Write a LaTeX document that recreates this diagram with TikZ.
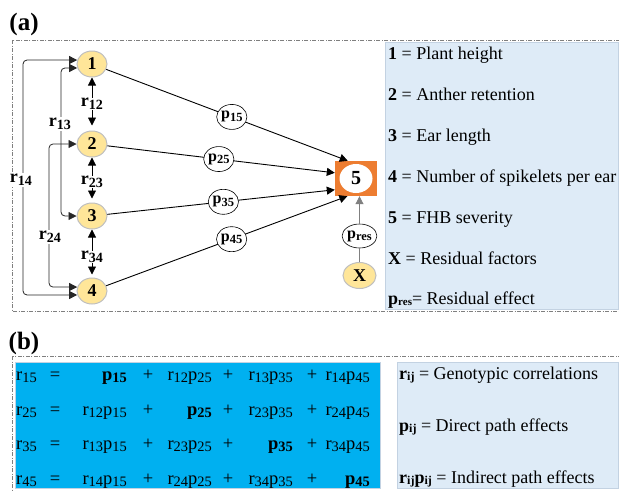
\documentclass[tikz,border=0pt]{standalone}
\usepackage{fontspec}
\setmainfont{Liberation Serif}
\usetikzlibrary{arrows.meta,shapes.geometric,calc}
\definecolor{nodefill}{HTML}{FFE699}
\definecolor{nodeline}{HTML}{BFBFBF}
\definecolor{orng}{HTML}{ED7D31}
\definecolor{lgtblue}{HTML}{DEEBF7}
\definecolor{lgtline}{HTML}{C3D2E2}
\definecolor{cyanblue}{HTML}{00B0F0}
\definecolor{dashgray}{HTML}{7F7F7F}
\definecolor{linegray}{HTML}{808080}
\makeatletter
\newdimen\sbsdim
\newcommand\sbs[1]{{\sbsdim=\f@size pt\relax\sbsdim=0.78\sbsdim
  \raisebox{-0.35ex}{\fontsize{\strip@pt\sbsdim}{0}\selectfont #1}}}
\makeatother
\newcommand\rp[2]{r\sbs{#1}p\sbs{#2}}
\newcommand\bp[1]{\textbf{p\sbs{#1}}}
\newcommand\eqrow[7]{%
  \node[eqtxt, anchor=base west] (#1l) at (16,#2) {#3};
  \node[eqtxt, anchor=base] (#1e) at (55,#2) {=};
  \node[eqtxt, anchor=base east] (#1a) at (127,#2) {#4};
  \node[eqtxt, anchor=base] (#1pa) at (148,#2) {+};
  \node[eqtxt, anchor=base east] (#1b) at (212,#2) {#5};
  \node[eqtxt, anchor=base] (#1pb) at (228,#2) {+};
  \node[eqtxt, anchor=base east] (#1c) at (293,#2) {#6};
  \node[eqtxt, anchor=base] (#1pc) at (312,#2) {+};
  \node[eqtxt, anchor=base east] (#1d) at (370,#2) {#7};
}
\begin{document}
\begin{tikzpicture}[x=1pt,y=-1pt,
  trait/.style={ellipse, draw=nodeline, line width=1pt, fill=nodefill,
    minimum width=30pt, minimum height=26pt, inner sep=0pt,
    font=\fontsize{18}{18}\selectfont\bfseries},
  plbl/.style={ellipse, draw=black, line width=0.6pt, fill=white,
    minimum width=28pt, minimum height=25pt, inner sep=0pt,
    font=\fontsize{16}{16}\selectfont\bfseries},
  rlbl/.style={fill=white, inner sep=1pt, font=\fontsize{18}{18}\selectfont\bfseries},
  pathline/.style={line width=0.9pt, -{Triangle[length=8pt,width=8pt]}},
  corrline/.style={line width=0.8pt, draw=black!85, rounded corners=4pt,
    {Triangle[length=8pt,width=8pt]}-{Triangle[length=8pt,width=8pt]}},
  shortarr/.style={line width=0.8pt, -{Triangle[length=8pt,width=8pt]}},
  dashbox/.style={draw=dashgray, line width=0.8pt, dash pattern=on 4pt off 1.5pt on 1pt off 1.5pt},
  legtxt/.style={anchor=base west, inner sep=0pt, font=\fontsize{18}{18}\selectfont},
  eqtxt/.style={inner sep=0pt, font=\fontsize{18.5}{18.5}\selectfont},
  panel/.style={font=\fontsize{25}{25}\selectfont\bfseries, inner sep=0pt}
]
\useasboundingbox (0,0) rectangle (619,491);
\clip (0,0) rectangle (619,491);

% ---------- panel (a) ----------
\node[panel] (la) at (24,24) {(a)};
\draw[dashbox] (12,40) rectangle (625,311);
\draw[draw=lgtline, fill=lgtblue] (385,42) rectangle (618,309);

\node[legtxt] (lg1) at (388,59) {\textbf{1} = Plant height};
\node[legtxt] (lg2) at (388,100) {\textbf{2} = Anther retention};
\node[legtxt] (lg3) at (388,141) {\textbf{3} = Ear length};
\node[legtxt] (lg4) at (388,182) {\textbf{4} = Number of spikelets per ear};
\node[legtxt] (lg5) at (388,223) {\textbf{5} = FHB severity};
\node[legtxt] (lgx) at (388,264) {\textbf{X} = Residual factors};
\node[legtxt] (lgp) at (388,304) {\textbf{p{\fontsize{11}{0}\selectfont\raisebox{-0.3ex}{res}}}= Residual effect};

\node[trait] (n1) at (92,64) {1};
\node[trait] (n2) at (92,144) {2};
\node[trait] (n3) at (92,216) {3};
\node[trait] (n4) at (92,291) {4};

\node[fill=orng, minimum width=42pt, minimum height=35pt, inner sep=0pt] (n5) at (356,178.5) {};
\node[ellipse, fill=white, minimum width=33pt, minimum height=29pt, inner sep=0pt,
  font=\fontsize{20}{20}\selectfont\bfseries] (n5c) at (n5) {5};
\node[trait, minimum width=33pt] (nx) at (359.5,275.5) {X};
\node[plbl, minimum width=34pt, minimum height=24pt] (pres) at (359.5,236) {p\sbs{res}};

% correlation connectors
\coordinate (c14) at (23,180);
\coordinate (c13) at (61,140);
\coordinate (c24) at (49,215);
\draw[corrline] (n1.165) -| (c14) |- (n4.195);
\draw[corrline] (n1.195) -| (c13) |- (n3.west);
\draw[corrline] (n2.west) -| (c24) |- (n4.165);
\node[rlbl] (r14) at (21,180) {r\sbs{14}};
\node[rlbl] (r13) at (60,124) {r\sbs{13}};
\node[rlbl] (r24) at (50,237) {r\sbs{24}};

\node[rlbl, inner sep=0pt] (r12) at (92,104) {r\sbs{12}};
\node[rlbl, inner sep=0pt] (r23) at (92,182) {r\sbs{23}};
\node[rlbl, inner sep=0pt] (r34) at (92,257) {r\sbs{34}};
\draw[shortarr] (r12) -- (n1);
\draw[shortarr, shorten >=5pt] (r12) -- (n2);
\draw[shortarr] (r23) -- (n2);
\draw[shortarr, shorten >=4pt] (r23) -- (n3);
\draw[shortarr] (r34) -- (n3);
\draw[shortarr, shorten >=3pt] (r34) -- (n4);

% path connectors
\draw[pathline] (n1) -- (n5.115) node[plbl, pos=.52] (p15) {p\sbs{15}};
\draw[pathline] (n2) -- (n5.165) node[plbl, pos=.49] (p25) {p\sbs{25}};
\draw[pathline] (n3) -- (n5.208) node[plbl, pos=.51] (p35) {p\sbs{35}};
\draw[pathline] (n4) -- (n5.244) node[plbl, pos=.52] (p45) {p\sbs{45}};

\draw[draw=linegray, line width=0.9pt] (nx) -- (pres);
\draw[draw=linegray, line width=0.9pt, -{Triangle[length=8pt,width=8pt]}] (pres) -- (pres |- n5.south);

% ---------- panel (b) ----------
\node[panel] (lb) at (24,343) {(b)};
\draw[dashbox] (12,356) rectangle (625,500);
\draw[draw=lgtline, fill=cyanblue] (15,362) rectangle (380,488);
\draw[draw=lgtline, fill=lgtblue] (397,362) rectangle (618,488);

\eqrow{qa}{380}{r\sbs{15}}{\bp{15}}{\rp{12}{25}}{\rp{13}{35}}{\rp{14}{45}}
\eqrow{qb}{415}{r\sbs{25}}{\rp{12}{15}}{\bp{25}}{\rp{23}{35}}{\rp{24}{45}}
\eqrow{qc}{449}{r\sbs{35}}{\rp{13}{15}}{\rp{23}{25}}{\bp{35}}{\rp{34}{45}}
\eqrow{qd}{484}{r\sbs{45}}{\rp{14}{15}}{\rp{24}{25}}{\rp{34}{35}}{\bp{45}}

\node[legtxt] (lr) at (399,379) {\textbf{r{\fontsize{12}{0}\selectfont\raisebox{-0.3ex}{ij}}} = Genotypic correlations};
\node[legtxt] (lp) at (399,431) {\textbf{p{\fontsize{12}{0}\selectfont\raisebox{-0.3ex}{ij}}} = Direct path effects};
\node[legtxt] (lrp) at (399,483) {\textbf{r{\fontsize{12}{0}\selectfont\raisebox{-0.3ex}{ij}}p{\fontsize{12}{0}\selectfont\raisebox{-0.3ex}{ij}}} = Indirect path effects};
\end{tikzpicture}
\end{document}
